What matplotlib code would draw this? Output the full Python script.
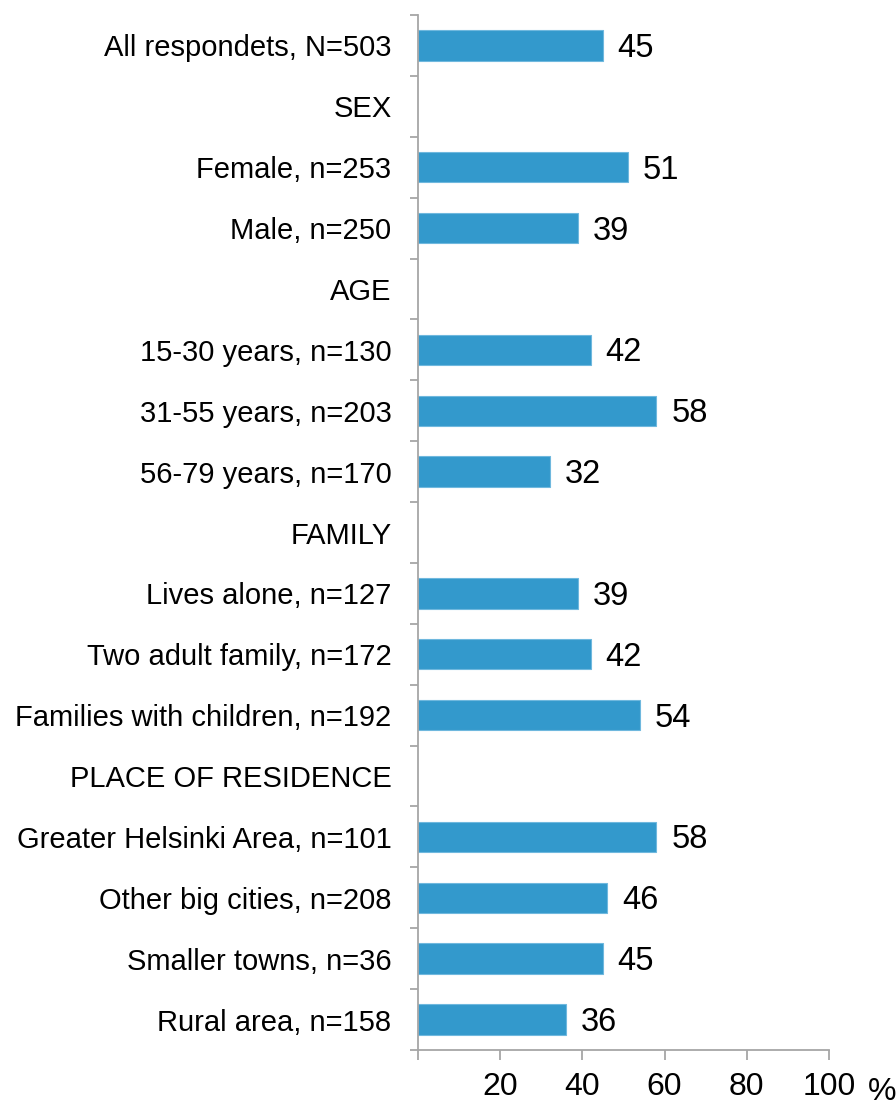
import numpy as np
import matplotlib.pyplot as plt

plt.rcParams['font.family'] = ['Liberation Sans', 'DejaVu Sans']

labels = ['All respondets, N=503', 'SEX', 'Female, n=253', 'Male, n=250',
          'AGE', '15-30 years, n=130', '31-55 years, n=203', '56-79 years, n=170',
          'FAMILY', 'Lives alone, n=127', 'Two adult family, n=172',
          'Families with children, n=192', 'PLACE OF RESIDENCE',
          'Greater Helsinki Area, n=101', 'Other big cities, n=208',
          'Smaller towns, n=36', 'Rural area, n=158']
values = [45, None, 51, 39, None, 42, 58, 32, None, 39, 42, 54, None, 58, 46, 45, 36]
xticks = [20, 40, 60, 80, 100]

fig = plt.figure(figsize=(8.96, 11.08), dpi=100)
ax = fig.add_axes([418/896, 1 - 1050/1108, (829 - 418)/896, (1050 - 15)/1108])

n = len(labels)
y = np.arange(n)
for yi, v in zip(y, values):
    if v is None:
        continue
    ax.barh(yi, v, height=0.5, color='#3399CC', edgecolor='#6FB8DE', linewidth=0.8)
    ax.text(v + 3.6, yi + 0.05, str(v), va='center', ha='left', fontsize=23.5)

ax.set_ylim(n - 0.5, -0.5)
ax.set_xlim(0, 100)
gray = '#A6A6A6'
for s in ['top', 'right']:
    ax.spines[s].set_visible(False)
ax.spines['left'].set_color(gray)
ax.spines['bottom'].set_color(gray)
ax.spines['left'].set_linewidth(1.3)
ax.spines['bottom'].set_linewidth(1.3)

# y ticks at the boundaries between rows, labels centered in rows
ax.set_yticks(np.arange(n + 1) - 0.5)
ax.set_yticklabels([])
ax.set_yticks(y, minor=True)
ax.set_yticklabels(labels, minor=True, fontsize=21)
ax.tick_params(axis='y', which='major', length=6, width=1.3, color=gray, direction='out')
ax.tick_params(axis='y', which='minor', length=0, pad=19)

ax.set_xticks([0] + xticks)
ax.set_xticklabels([''] + [str(t) for t in xticks], fontsize=23)
ax.tick_params(axis='x', length=7, width=1.3, color=gray, pad=9)

fig.text(868/896, 1 - 1092/1108, '%', fontsize=23, va='center', ha='left')

fig.savefig('out.png', dpi=100)
